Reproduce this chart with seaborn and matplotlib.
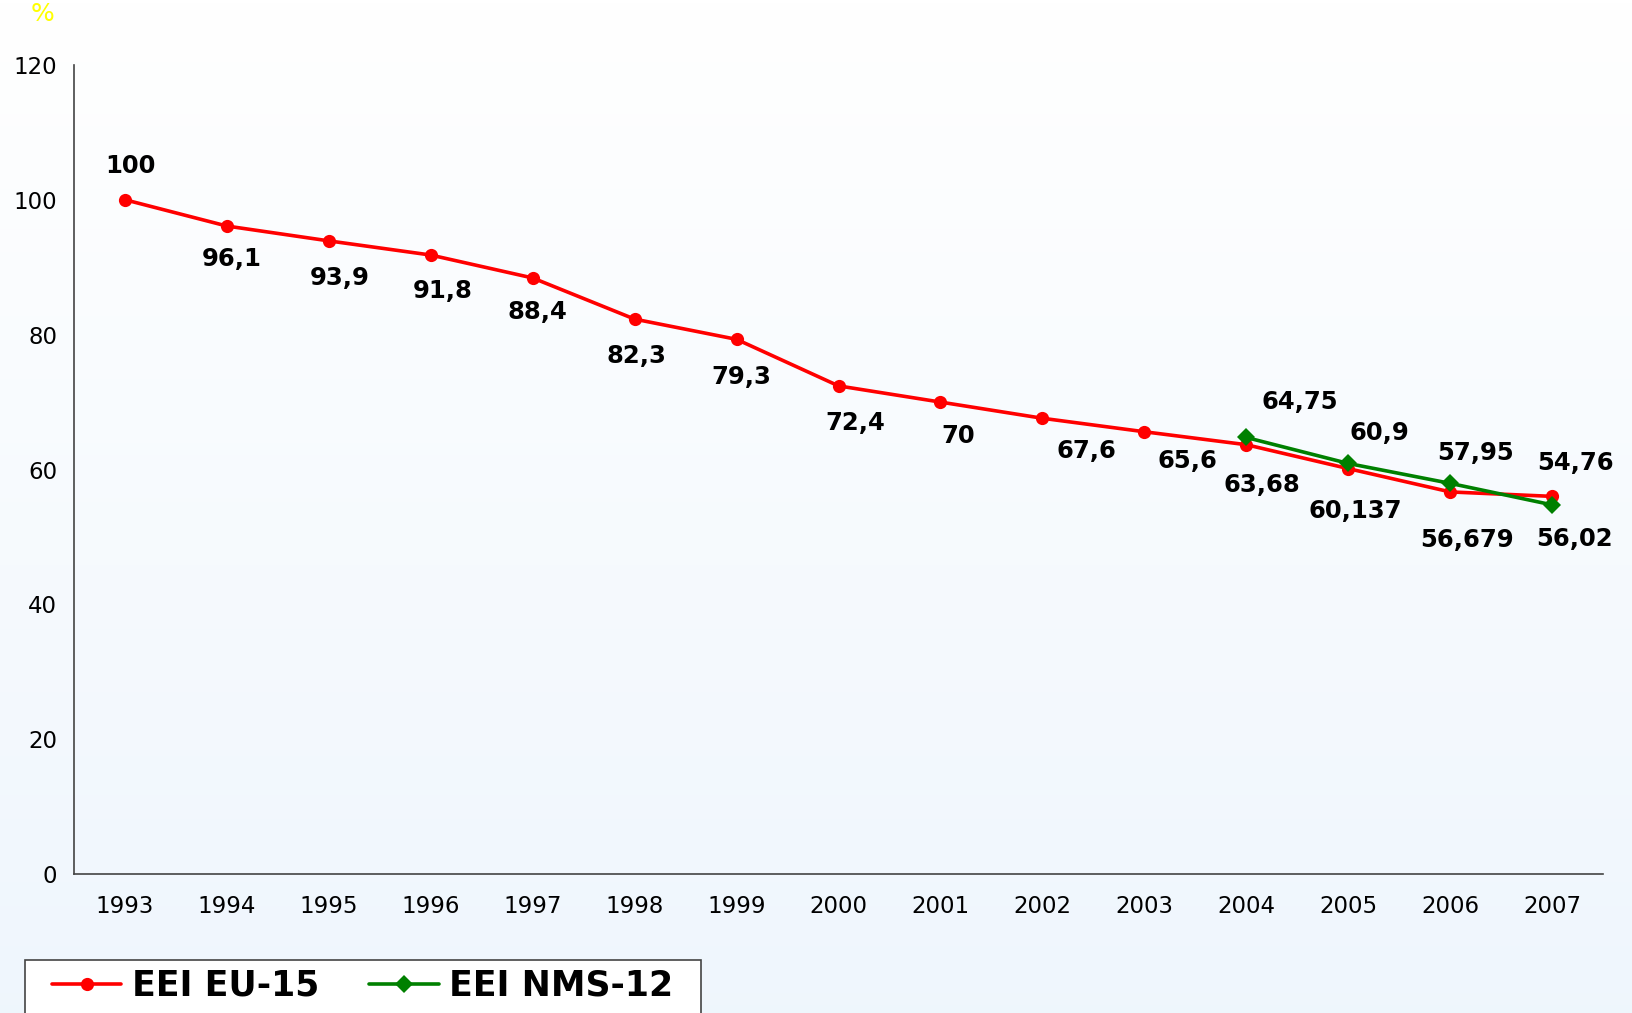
import numpy as np
import pandas as pd
import matplotlib
matplotlib.use('Agg')
import matplotlib.pyplot as plt
import seaborn as sns

years = ['1993', '1994', '1995', '1996', '1997', '1998', '1999', '2000',
         '2001', '2002', '2003', '2004', '2005', '2006', '2007']
eu15 = [100, 96.1, 93.9, 91.8, 88.4, 82.3, 79.3, 72.4, 70, 67.6, 65.6,
        63.68, 60.137, 56.679, 56.02]
nms12_years = ['2004', '2005', '2006', '2007']
nms12 = [64.75, 60.9, 57.95, 54.76]
eu15_labels = ['100', '96,1', '93,9', '91,8', '88,4', '82,3', '79,3', '72,4',
               '70', '67,6', '65,6', '63,68', '60,137', '56,679', '56,02']
nms12_labels = ['64,75', '60,9', '57,95', '54,76']

# label offsets in pixels (dx, dy), picked to sit like the original
eu15_off = [(6, 34), (5, -33), (11, -37), (12, -36), (5, -34), (2, -37), (5, -38),
            (17, -37), (18, -34), (44, -33), (43, -29), (16, -40), (7, -42),
            (17, -48), (22, -43)]
nms12_off = [(54, 35), (31, 30), (25, 30), (23, 42)]

sns.set_style('white')
plt.rcParams['font.family'] = ['DejaVu Sans']
plt.rcParams['text.color'] = 'black'
plt.rcParams['xtick.color'] = 'black'
plt.rcParams['ytick.color'] = 'black'

idx = {y: i for i, y in enumerate(years)}
df = pd.concat([
    pd.DataFrame({'x': [idx[y] for y in years], 'value': eu15, 'series': 'EEI EU-15'}),
    pd.DataFrame({'x': [idx[y] for y in nms12_years], 'value': nms12, 'series': 'EEI NMS-12'}),
])

fig = plt.figure(figsize=(16.32, 10.13), dpi=100)

# soft white-to-blue background
bg = fig.add_axes([0, 0, 1, 1], zorder=-10)
top = np.array([1.0, 1.0, 1.0])
bot = np.array([0.937, 0.965, 0.992])
grad = np.linspace(0, 1, 256)[:, None, None] * (bot - top) + top
bg.imshow(np.repeat(grad, 2, axis=1), aspect='auto', extent=[0, 1, 0, 1])
bg.axis('off')

ax = fig.add_axes([0.0453, 0.137, 0.937, 0.799])
ax.patch.set_alpha(0)

colors = {'EEI EU-15': '#ff0000', 'EEI NMS-12': '#008000'}
sns.lineplot(data=df, x='x', y='value', hue='series', style='series',
             markers={'EEI EU-15': 'o', 'EEI NMS-12': 'D'}, dashes=False,
             palette=colors, linewidth=2.6, markersize=9.5, markeredgewidth=0,
             ax=ax, legend=True)

for (y, v, lab, off) in zip(years, eu15, eu15_labels, eu15_off):
    ax.annotate(lab, (idx[y], v), xytext=off, textcoords='offset pixels',
                ha='center', va='center', fontsize=17.5, fontweight='bold')
for (y, v, lab, off) in zip(nms12_years, nms12, nms12_labels, nms12_off):
    ax.annotate(lab, (idx[y], v), xytext=off, textcoords='offset pixels',
                ha='center', va='center', fontsize=17.5, fontweight='bold')

ax.set_xlim(-0.5, len(years) - 0.5)
ax.set_ylim(0, 120)
ax.set_yticks(range(0, 121, 20))
ax.set_xticks(np.arange(-0.5, len(years), 1))
ax.set_xticklabels([])
ax.set_xticks(range(len(years)), minor=True)
ax.set_xticklabels(years, minor=True)
ax.tick_params(axis='x', which='major', length=7, width=1, color='#444444', direction='out')
ax.tick_params(axis='x', which='minor', length=0, pad=15, labelsize=16.5)
ax.tick_params(axis='y', length=7, width=1, color='#444444', direction='out', labelsize=16.5, pad=5)
ax.set_xlabel('')
ax.set_ylabel('')
sns.despine(ax=ax)
for s in ['left', 'bottom']:
    ax.spines[s].set_color('#444444')
    ax.spines[s].set_linewidth(1.2)

fig.text(0.026, 0.986, '%', color='#ffff00', fontsize=18, ha='center', va='center')

# legend box, cut off by the bottom edge like the original
fig.patches.append(plt.Rectangle((0.0153, -0.02), 0.414, 0.0723, transform=fig.transFigure,
                                 facecolor='white', edgecolor='#444444', linewidth=1.2,
                                 zorder=1))
handles, labels = ax.get_legend_handles_labels()
ax.get_legend().remove()
leg = fig.legend(handles, labels, loc='center left', bbox_to_anchor=(0.0318, 0.0267),
                 ncol=2, frameon=False, prop={'weight': 'bold', 'size': 25},
                 handlelength=2.0, handletextpad=0.3, columnspacing=1.45,
                 borderpad=0, borderaxespad=0)
leg.set_zorder(2)

fig.savefig('out.png', dpi=100)
